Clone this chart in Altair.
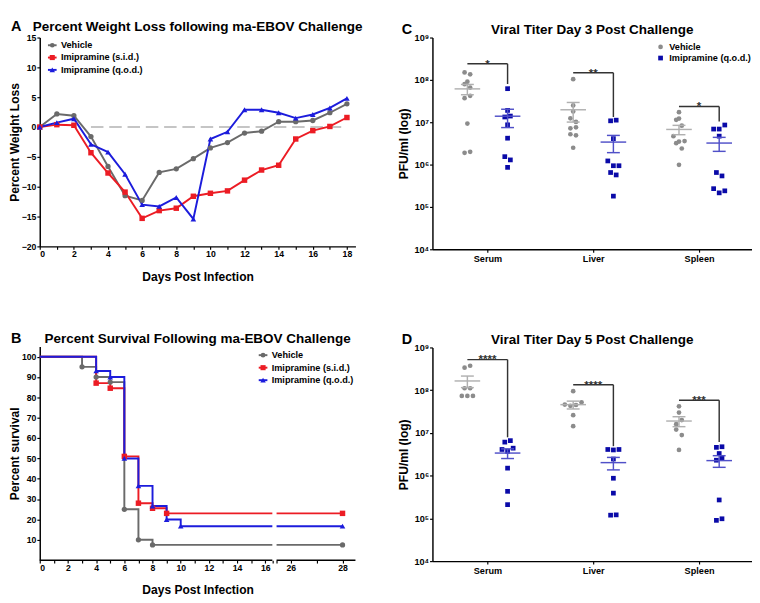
import altair as alt
import pandas as pd

FONT = "Liberation Sans"

# ---------------- Panel A: percent weight loss ----------------
DAYS_A = list(range(19))
SERIES_AB = ["Vehicle", "Imipramine (s.i.d.)", "Imipramine (q.o.d.)"]
WL_VEHICLE = [0, 2.2, 1.9, -1.6, -6.6, -11.5, -12.3, -7.6, -7.0, -5.3, -3.5, -2.6, -1.0, -0.7, 0.9, 0.9, 1.1, 2.4, 3.9]
WL_SID = [0, 0.4, 0.3, -4.3, -7.7, -10.9, -15.3, -14.0, -13.6, -11.6, -11.1, -10.7, -8.9, -7.2, -6.4, -2.0, -0.6, 0.1, 1.6]
WL_QOD = [0, 0.75, 1.4, -2.9, -4.2, -7.9, -13.0, -13.3, -11.8, -15.4, -2.0, -0.8, 2.9, 2.9, 2.4, 1.5, 2.1, 3.2, 4.8]
A_X_TICKS = list(range(19))
A_Y_TICKS = [-20, -15, -10, -5, 0, 5, 10, 15]
A_BASELINE_FROM = [3]
A_BASELINE_TO = [18]
A_BASELINE_LEVEL = [0]

# ---------------- Panel B: survival ----------------
SURV_DAYS = {
    "Vehicle": [0, 3, 4, 5, 6, 7, 8],
    "Imipramine (s.i.d.)": [0, 4, 5, 6, 7, 8, 9],
    "Imipramine (q.o.d.)": [0, 4, 5, 6, 7, 8, 9, 10],
}
SURV_PCT = {
    "Vehicle": [100, 95, 90, 87.5, 25, 10, 7.5],
    "Imipramine (s.i.d.)": [100, 87, 84.5, 51, 28, 25.5, 23],
    "Imipramine (q.o.d.)": [100, 93, 90, 50, 36.5, 26.6, 20, 16.7],
}
SURV_END = 28
B_X_TICKS = list(range(17)) + [26, 27, 28]
B_Y_TICKS = [10, 20, 30, 40, 50, 60, 70, 80, 90, 100]

# ---------------- Panels C, D: viral titers (PFU/ml) ----------------
CATS = ["Serum", "Liver", "Spleen"]
GROUPS_CD = ["Vehicle", "Imipramine (q.o.d.)"]

D3_VEHICLE = {
    "Serum": [1.5e8, 1.35e8, 9.1e7, 7.9e7, 6.6e7, 4.2e7, 3.7e7, 9.3e6, 1.9e6, 2.0e6],
    "Liver": [1.04e8, 2.5e7, 1.8e7, 1.24e7, 1.02e7, 7.2e6, 7.6e6, 5.2e6, 4.9e6, 2.5e6],
    "Spleen": [1.73e7, 1.22e7, 1.14e7, 8.3e6, 4.7e6, 3.6e6, 3.5e6, 3.2e6, 2.4e6, 9.9e5],
}
D3_VEHICLE_SPREAD = {
    "Serum": [-0.5, 0.5, 0, -0.5, 0.5, 0.5, -0.5, 0, -0.5, 0.5],
    "Liver": [0, 0, 0, -0.5, 0.5, -0.5, 0.5, -0.5, 0.5, 0],
    "Spleen": [0, 0, -0.5, 0.5, -1, 1, 0, -0.5, 0.5, 0],
}
D3_IMIP = {
    "Serum": [6.2e7, 1.9e7, 1.33e7, 1.4e7, 8.7e6, 4.2e6, 1.54e6, 1.29e6, 8.6e5],
    "Liver": [1.08e7, 1.12e7, 4.1e6, 1.22e6, 9.4e5, 9.4e5, 6.5e5, 5.7e5, 1.8e5],
    "Spleen": [8.6e6, 6.9e6, 6.9e6, 4.7e6, 6.5e5, 5.4e5, 2.7e5, 2.15e5, 2.4e5],
}
D3_IMIP_SPREAD = {
    "Serum": [0, 0, -0.5, 0.5, 0, 0, -0.5, 0.5, 0],
    "Liver": [-0.5, 0.5, 0, -1, 0, 1, -0.5, 0.5, 0],
    "Spleen": [1, -1, 0, 0, -0.5, 0.5, -1, 0, 1],
}
D3_SIG_LABELS = ["*", "**", "*"]
D3_SIG_TOP = [2.4e8, 1.47e8, 2.36e7]
D3_SIG_DROP = [8.0e7, 1.33e7, 1.04e7]

D5_VEHICLE = {
    "Serum": [3.36e8, 3.73e8, 1.11e8, 1.11e8, 7.35e7, 7.35e7, 7.35e7],
    "Liver": [9.5e7, 4.6e7, 4.3e7, 4.5e7, 5.2e7, 2.6e7, 1.44e7],
    "Spleen": [4.2e7, 3.0e7, 2.0e7, 1.6e7, 1.2e7, 8.9e6, 4.0e6],
}
D5_VEHICLE_SPREAD = {
    "Serum": [-0.5, 0.5, -0.5, 0.5, -1, 0, 1],
    "Liver": [0, -1.5, -0.5, 0.5, 1.5, 0, 0],
    "Spleen": [0, 0, 0.5, -0.5, -0.5, 0.5, 0],
}
D5_IMIP = {
    "Serum": [6.1e6, 6.6e6, 4.1e6, 4.4e6, 3.7e6, 1.5e6, 4.3e5, 2.1e5],
    "Liver": [4.1e6, 4.0e6, 4.1e6, 2.45e6, 8.7e5, 3.9e5, 1.19e5, 1.21e5],
    "Spleen": [4.6e6, 4.75e6, 3.3e6, 2.6e6, 2.3e6, 2.7e5, 9.0e4, 9.8e4],
}
D5_IMIP_SPREAD = {
    "Serum": [-0.5, 0.5, -1, 1, 0, 0, 0, 0],
    "Liver": [-1, 0, 1, 0, 0, 0, -0.5, 0.5],
    "Spleen": [-0.5, 0.5, 0, 0.5, -0.5, 0, -0.5, 0.5],
}
D5_SIG_LABELS = ["****", "****", "***"]
D5_SIG_TOP = [5.2e8, 1.34e8, 5.8e7]
D5_SIG_DROP = [7.9e6, 4.9e6, 6.1e6]

LOG_TICKS = [1e4, 1e5, 1e6, 1e7, 1e8, 1e9]

# ---------------- styles ----------------
COL_AB = {"Vehicle": "#6a6a6a", "Imipramine (s.i.d.)": "#ec1c24", "Imipramine (q.o.d.)": "#1c1cdc"}
SHAPE_AB = {"Vehicle": "circle", "Imipramine (s.i.d.)": "square", "Imipramine (q.o.d.)": "triangle-up"}
SIZE_AB = {"Vehicle": 30, "Imipramine (s.i.d.)": 34, "Imipramine (q.o.d.)": 38}
COL_CD = ["#8c8c8c", "#0a0aa8"]
BAR_CD = ["#b0b0b0", "#5050c8"]
SHAPE_CD = ["circle", "square"]

WA, HA = 328, 217
WB, HB = 328, 222
WC, HC = 332, 220
WD, HD = 332, 222


def axis(**kw):
    base = dict(domainColor="black", domainWidth=1.5, tickColor="black", tickWidth=1.2,
                tickSize=3, labelFont=FONT, labelFontSize=9, labelFontWeight="bold",
                labelColor="black", labelPadding=1, titleFont=FONT, titleFontSize=12.5,
                titleFontWeight="bold", titleColor="black", grid=False)
    base.update(kw)
    return alt.Axis(**base)


def heading(t, let, W, dx, hy=-15):
    d = pd.DataFrame({"t": [t], "l": [let]})
    ttl = alt.Chart(d).mark_text(align="center", baseline="top", font=FONT, fontSize=14,
                                 fontWeight="bold", color="black").encode(
        text="t:N", x=alt.value(W / 2), y=alt.value(hy))
    lt = alt.Chart(d).mark_text(align="left", baseline="top", font=FONT, fontSize=15,
                                fontWeight="bold", color="black").encode(
        text="l:N", x=alt.value(dx), y=alt.value(hy - 0.5))
    return [ttl, lt]


def line_legend(x0, y0, step):
    layers = []
    for i, s in enumerate(SERIES_AB):
        y = y0 + i * step
        d = pd.DataFrame({"series": [s]})
        layers.append(alt.Chart(d).mark_rule(color=COL_AB[s], strokeWidth=2).encode(
            x=alt.value(x0 - 4.5), x2=alt.value(x0 + 4.5), y=alt.value(y)))
        layers.append(alt.Chart(d).mark_point(filled=True, opacity=1, color=COL_AB[s],
                                              shape=SHAPE_AB[s], size=SIZE_AB[s] - 6).encode(
            x=alt.value(x0), y=alt.value(y)))
        layers.append(alt.Chart(d).mark_text(align="left", baseline="middle", font=FONT, fontSize=9.5,
                                             fontWeight="bold", color="black").encode(
            x=alt.value(x0 + 9), y=alt.value(y), text="series:N"))
    return layers


colAB = alt.Color("series:N", scale=alt.Scale(domain=SERIES_AB, range=[COL_AB[s] for s in SERIES_AB]), legend=None)
shpAB = alt.Shape("series:N", scale=alt.Scale(domain=SERIES_AB, range=[SHAPE_AB[s] for s in SERIES_AB]), legend=None)
sizAB = alt.Size("series:N", scale=alt.Scale(domain=SERIES_AB, range=[SIZE_AB[s] for s in SERIES_AB]), legend=None)

# ---------- Panel A ----------
dfA = pd.DataFrame({
    "day": DAYS_A * 3,
    "pct": WL_VEHICLE + WL_SID + WL_QOD,
    "series": [s for s in SERIES_AB for _ in DAYS_A],
})
xA = alt.X("day:Q", scale=alt.Scale(domain=[0, 18.5], nice=False, zero=False),
           axis=axis(values=A_X_TICKS, labelExpr="datum.value % 2 == 0 ? datum.label : ''",
                     title="Days Post Infection", titlePadding=12))
yA = alt.Y("pct:Q", scale=alt.Scale(domain=[-20, 15], nice=False, zero=False),
           axis=axis(values=A_Y_TICKS, title="Percent Weight Loss", titlePadding=0))

baseA = alt.Chart(pd.DataFrame({"day": A_BASELINE_FROM, "day2": A_BASELINE_TO, "pct": A_BASELINE_LEVEL})).mark_rule(
    color="#b3b3b3", strokeWidth=1.5, strokeDash=[13, 6]).encode(x=xA, x2="day2:Q", y=yA)
linesA = alt.Chart(dfA).mark_line(strokeWidth=2).encode(x=xA, y=yA, color=colAB)
ptsA = alt.Chart(dfA).mark_point(filled=True, opacity=1).encode(x=xA, y=yA, color=colAB, shape=shpAB, size=sizAB)

panelA = alt.layer(baseA, linesA, ptsA, *line_legend(13, 8, 12.8),
                   *heading("Percent Weight Loss following ma-EBOV Challenge", "A", WA, -30, -18)).properties(
    width=WA, height=HA)

# ---------- Panel B (broken x axis) ----------
BREAK_LO, BREAK_HI, GAP, SEG2 = 16.5, 25.45, 0.3, 1.835
X_END = 28.5


def to_u(d):
    return d if d <= BREAK_LO else BREAK_LO + GAP + (d - BREAK_HI) * SEG2


def u_expr(f):
    return f"datum.{f} <= {BREAK_LO} ? datum.{f} : {BREAK_LO + GAP} + (datum.{f} - {BREAK_HI}) * {SEG2}"


rows_line, rows_pts = [], []
for s in SERIES_AB:
    d, p = SURV_DAYS[s], SURV_PCT[s]
    for di, pi in zip(d, p):
        rows_line.append(dict(series=s, seg=1, day=di, pct=pi))
    rows_line.append(dict(series=s, seg=1, day=BREAK_LO, pct=p[-1]))
    rows_line.append(dict(series=s, seg=2, day=BREAK_HI, pct=p[-1]))
    rows_line.append(dict(series=s, seg=2, day=SURV_END, pct=p[-1]))
    for di, pi in zip(d[1:], p[1:]):
        rows_pts.append(dict(series=s, day=di, pct=pi))
    rows_pts.append(dict(series=s, day=SURV_END, pct=p[-1]))
dfBl = pd.DataFrame(rows_line)
dfBp = pd.DataFrame(rows_pts)

day_of = f"(datum.value <= {BREAK_LO + 0.001} ? datum.value : {BREAK_HI} + (datum.value - {BREAK_LO + GAP}) / {SEG2})"
labB = f"(abs({day_of} - round({day_of})) < 0.02 && round({day_of}) % 2 == 0) ? format(round({day_of}), 'd') : ''"
xB = alt.X("u:Q", scale=alt.Scale(domain=[0, to_u(X_END)], nice=False, zero=False),
           axis=axis(values=[to_u(t) for t in B_X_TICKS] + [BREAK_LO, BREAK_LO + GAP], labelExpr=labB,
                     domain=False, title="Days Post Infection", titlePadding=12))
yB = alt.Y("pct:Q", scale=alt.Scale(domain=[0, 105], nice=False, zero=False),
           axis=axis(values=B_Y_TICKS, title="Percent survival", titlePadding=0))

linesB = alt.Chart(dfBl).transform_calculate(u=u_expr("day")).mark_line(
    interpolate="step-after", strokeWidth=2).encode(x=xB, y=yB, color=colAB, detail="seg:N", order="day:Q")
ptsB = alt.Chart(dfBp).transform_calculate(u=u_expr("day")).mark_point(filled=True, opacity=1).encode(
    x=xB, y=yB, color=colAB, shape=shpAB, size=sizAB)
domB = alt.Chart(pd.DataFrame({"day": [0, BREAK_HI], "day2": [BREAK_LO, X_END]})).transform_calculate(
    u=u_expr("day"), u2=u_expr("day2")).mark_rule(color="black", strokeWidth=1.5).encode(
    x=xB, x2="u2:Q", y=alt.value(HB))

panelB = alt.layer(linesB, ptsB, domB, *line_legend(WB - 96, 9, 13),
                   *heading("Percent Survival Following ma-EBOV Challenge", "B", WB, -30)).properties(
    width=WB, height=HB)

# ---------- Panels C, D ----------
SUP = "⁰¹²³⁴⁵⁶⁷⁸⁹"
sup_list = "[" + ",".join(f"'{c}'" for c in SUP) + "]"
LOG_LABEL = "'10' + " + sup_list + "[round(log(datum.value) / LN10)]"
CAT_LABEL = "[" + ",".join(f"'{c}'" for c in CATS) + "][round(datum.value)]"


def titer_panel(veh, veh_sp, imi, imi_sp, sig_lab, sig_top, sig_drop, ttl, let, W, H, legend):
    rows = []
    for ci, cat in enumerate(CATS):
        for gi, (vals, spr) in enumerate([(veh[cat], veh_sp[cat]), (imi[cat], imi_sp[cat])]):
            for v, sp in zip(vals, spr):
                rows.append(dict(cat=cat, ci=ci, gi=gi, grp=GROUPS_CD[gi], pfu=v, slot=sp))
    df = pd.DataFrame(rows)
    ppu = W / 3.02
    OFF = 0.19
    SLOT = 5.8 / ppu
    MHW = 13.3 / ppu
    CHW = 6.7 / ppu

    xs = alt.Scale(domain=[-0.52, 2.5], nice=False, zero=False)
    ys = alt.Scale(type="log", domain=[1e4, 1e9], nice=False)
    xax = axis(values=[0, 1, 2], labelExpr=CAT_LABEL, labelFontSize=9.5, labelPadding=2, title=None)
    yax = axis(values=LOG_TICKS, labelExpr=LOG_LABEL, labelFontSize=9.5, title="PFU/ml (log)", titlePadding=4)

    def X(f):
        return alt.X(f, scale=xs, axis=xax)

    def Y(f):
        return alt.Y(f, scale=ys, axis=yax)

    col = alt.Color("grp:N", scale=alt.Scale(domain=GROUPS_CD, range=COL_CD), legend=None)
    shp = alt.Shape("grp:N", scale=alt.Scale(domain=GROUPS_CD, range=SHAPE_CD), legend=None)
    stk = alt.Stroke("grp:N", scale=alt.Scale(domain=GROUPS_CD, range=BAR_CD), legend=None)

    pts = alt.Chart(df).transform_calculate(
        xpos=f"datum.ci + (2 * datum.gi - 1) * {OFF} + datum.slot * {SLOT}"
    ).mark_point(filled=True, opacity=1, size=24).encode(x=X("xpos:Q"), y=Y("pfu:Q"), color=col, shape=shp)

    agg = alt.Chart(df).transform_aggregate(
        m="mean(pfu)", se="stderr(pfu)", groupby=["ci", "gi", "grp"]
    ).transform_calculate(
        lo="datum.m - datum.se", hi="datum.m + datum.se",
        xc=f"datum.ci + (2 * datum.gi - 1) * {OFF}",
    ).transform_calculate(
        xl=f"datum.xc - {MHW}", xr=f"datum.xc + {MHW}",
        cl=f"datum.xc - {CHW}", cr=f"datum.xc + {CHW}",
    )
    mean_r = agg.mark_rule(strokeWidth=1.5).encode(x=X("xl:Q"), x2="xr:Q", y=Y("m:Q"), stroke=stk)
    hi_r = agg.mark_rule(strokeWidth=1.5).encode(x=X("cl:Q"), x2="cr:Q", y=Y("hi:Q"), stroke=stk)
    lo_r = agg.mark_rule(strokeWidth=1.5).encode(x=X("cl:Q"), x2="cr:Q", y=Y("lo:Q"), stroke=stk)
    v_r = agg.mark_rule(strokeWidth=1.5).encode(x=X("xc:Q"), y=Y("lo:Q"), y2="hi:Q", stroke=stk)

    sig = alt.Chart(pd.DataFrame({"ci": [0, 1, 2], "top": sig_top, "drop": sig_drop, "label": sig_lab})
                    ).transform_calculate(xl=f"datum.ci - {OFF}", xr=f"datum.ci + {OFF}")
    sig_h = sig.mark_rule(color="#333333", strokeWidth=1.5).encode(x=X("xl:Q"), x2="xr:Q", y=Y("top:Q"))
    sig_v = sig.mark_rule(color="#333333", strokeWidth=1.5).encode(x=X("xr:Q"), y=Y("top:Q"), y2="drop:Q")
    sig_t = sig.mark_text(baseline="alphabetic", dy=4, font=FONT, fontSize=12, fontWeight="bold",
                          color="#333333").encode(x=X("ci:Q"), y=Y("top:Q"), text="label:N")

    layers = [pts, mean_r, hi_r, lo_r, v_r, sig_h, sig_v, sig_t]
    if legend:
        for i, g in enumerate(GROUPS_CD):
            y = 9.7 + i * 11.6
            d = pd.DataFrame({"grp": [g]})
            layers.append(alt.Chart(d).mark_point(filled=True, opacity=1, color=COL_CD[i], shape=SHAPE_CD[i],
                                                  size=24).encode(x=alt.value(W - 95), y=alt.value(y)))
            layers.append(alt.Chart(d).mark_text(align="left", baseline="middle", font=FONT, fontSize=9.5,
                                                 fontWeight="bold", color="black").encode(
                x=alt.value(W - 86), y=alt.value(y), text="grp:N"))
    layers += heading(ttl, let, W, -32)
    return alt.layer(*layers).properties(width=W, height=H)


panelC = titer_panel(D3_VEHICLE, D3_VEHICLE_SPREAD, D3_IMIP, D3_IMIP_SPREAD, D3_SIG_LABELS, D3_SIG_TOP,
                     D3_SIG_DROP, "Viral Titer Day 3 Post Challenge", "C", WC, HC, True)
panelD = titer_panel(D5_VEHICLE, D5_VEHICLE_SPREAD, D5_IMIP, D5_IMIP_SPREAD, D5_SIG_LABELS, D5_SIG_TOP,
                     D5_SIG_DROP, "Viral Titer Day 5 Post Challenge", "D", WD, HD, False)

RES = dict(x="independent", y="independent", color="independent", shape="independent",
           size="independent", stroke="independent")
left = alt.vconcat(panelA, panelB, spacing=50).resolve_scale(**RES)
right = alt.vconcat(panelC, panelD, spacing=71).resolve_scale(**RES)

chart = alt.hconcat(left, right, spacing=35).resolve_scale(**RES).properties(
    padding={"left": 0, "top": 0, "right": 0, "bottom": 0}
).configure_view(stroke=None)

chart.save("out.html", embed_options={"renderer": "svg", "actions": False})
